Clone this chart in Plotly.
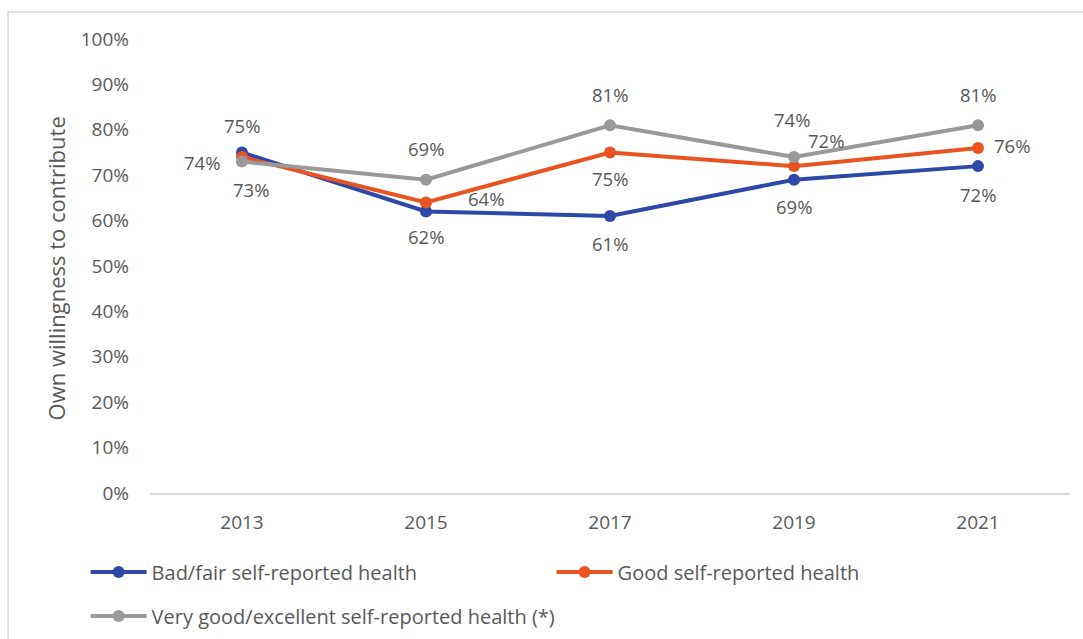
import plotly.graph_objects as go

years = ["2013", "2015", "2017", "2019", "2021"]
bad_fair = [75, 62, 61, 69, 72]
good = [74, 64, 75, 72, 76]
very_good = [73, 69, 81, 74, 81]
y_ticks = [0, 10, 20, 30, 40, 50, 60, 70, 80, 90, 100]

series = [
    ("Bad/fair self-reported health", bad_fair, "#2E48A8", "legend",
     [(0, 27), (0, -25), (0, -27), (0, -27), (0, -28)]),
    ("Good self-reported health", good, "#E8531F", "legend",
     [(-40, -5), (60, 4), (0, -26), (32, 26), (34, 2)]),
    ("Very good/excellent self-reported health (*)", very_good, "#999999", "legend2",
     [(9, -28), (0, 31), (0, 31), (-2, 38), (0, 31)]),
]

FONT = "'Open Sans', Lato, sans-serif"
TXT = "#595959"
FS = 18.5

fig = go.Figure()
annotations = []
for name, vals, color, leg, shifts in series:
    fig.add_trace(go.Scatter(
        x=years, y=vals, name=name, mode="lines+markers",
        line=dict(color=color, width=4),
        marker=dict(color=color, size=12),
        legend=leg,
    ))
    for i, (yv, (dx, dy)) in enumerate(zip(vals, shifts)):
        annotations.append(dict(
            x=i, y=yv, xref="x", yref="y", text=f"{yv}%",
            showarrow=False, xshift=dx, yshift=dy,
            xanchor="center", yanchor="middle",
            font=dict(family=FONT, size=FS, color=TXT),
        ))

annotations.append(dict(
    x=-0.102, y=0.495, xref="paper", yref="paper",
    xanchor="center", yanchor="middle",
    text="Own willingness to contribute", textangle=-90,
    showarrow=False, font=dict(family=FONT, size=22, color=TXT),
))

legend_common = dict(
    orientation="h", xanchor="left", yanchor="top",
    entrywidthmode="pixels",
    font=dict(family=FONT, size=20, color=TXT),
    itemwidth=56, bgcolor="rgba(0,0,0,0)",
)

fig.update_layout(
    width=1083, height=639,
    margin=dict(l=150, r=13, t=39, b=146, autoexpand=False),
    paper_bgcolor="white", plot_bgcolor="white",
    font=dict(family=FONT, size=FS, color=TXT),
    showlegend=True,
    legend=dict(x=-0.070, y=-0.131, entrywidth=395, **legend_common),
    legend2=dict(x=-0.070, y=-0.228, entrywidth=520, **legend_common),
    xaxis=dict(
        type="category", range=[-0.5, 4.5], showgrid=False,
        showline=True, linecolor="#D9D9D9", linewidth=2,
        ticks="", ticklabelstandoff=11,
        tickfont=dict(family=FONT, size=19, color=TXT),
    ),
    yaxis=dict(
        range=[0, 100], tickvals=y_ticks,
        ticktext=[f"{v}%" for v in y_ticks],
        showgrid=False, zeroline=False, showline=False,
        ticks="", ticklabelstandoff=20,
        tickfont=dict(family=FONT, size=19, color=TXT),
    ),
    annotations=annotations,
    shapes=[dict(
        type="rect", xref="paper", yref="paper",
        x0=-0.1543, x1=1.2, y0=-0.6, y1=1.0595,
        line=dict(color="#D9D9D9", width=1.5), fillcolor="rgba(0,0,0,0)",
        layer="below",
    )],
)

fig.write_html(
    "out.html",
    config={"displayModeBar": False},
    post_script="document.body.style.margin='0';document.body.style.overflow='hidden';",
)
